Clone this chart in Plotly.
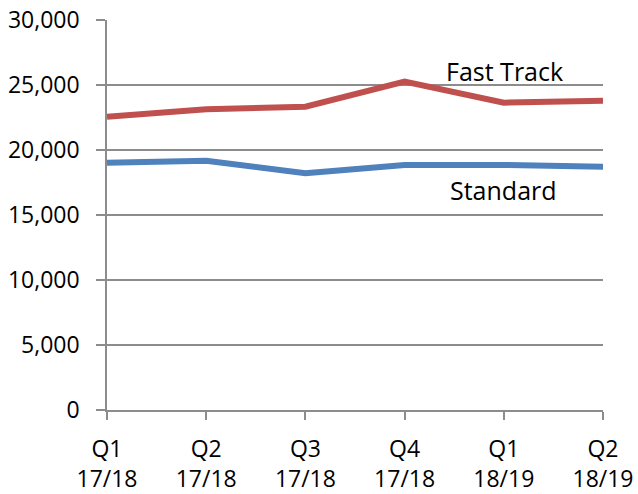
import plotly.graph_objects as go

quarters = ["Q1<br>17/18", "Q2<br>17/18", "Q3<br>17/18", "Q4<br>17/18", "Q1<br>18/19", "Q2<br>18/19"]
fast_track = [22560, 23130, 23330, 25260, 23640, 23790]
standard = [19020, 19180, 18210, 18850, 18850, 18720]
y_ticks = [0, 5000, 10000, 15000, 20000, 25000, 30000]
y_tick_labels = ["0", "5,000", "10,000", "15,000", "20,000", "25,000", "30,000"]

x_idx = list(range(len(quarters)))
FONT = "Open Sans, Liberation Sans, sans-serif"

fig = go.Figure()
fig.add_trace(go.Scatter(x=x_idx, y=fast_track, mode="lines", name="Fast Track",
                         line=dict(color="#C0504D", width=6), cliponaxis=False))
fig.add_trace(go.Scatter(x=x_idx, y=standard, mode="lines", name="Standard",
                         line=dict(color="#4F81BD", width=6), cliponaxis=False))

fig.add_annotation(x=4.01, y=26100, text="Fast Track", showarrow=False,
                   font=dict(size=25, color="#000000", family=FONT))
fig.add_annotation(x=4.0, y=16900, text="Standard", showarrow=False,
                   font=dict(size=25, color="#000000", family=FONT))

fig.update_layout(
    width=638, height=494,
    margin=dict(l=107, r=35, t=20, b=84),
    paper_bgcolor="white", plot_bgcolor="white",
    showlegend=False,
    font=dict(family=FONT, size=23, color="#000000"),
)
fig.update_xaxes(
    range=[0, 5], tickmode="array", tickvals=x_idx, ticktext=quarters,
    showgrid=False, showline=True, linecolor="#8C8C8C", linewidth=1.5,
    ticks="outside", ticklen=8, tickcolor="#8C8C8C", tickwidth=1.5,
    zeroline=False, tickfont=dict(size=23, family=FONT), automargin=False,
    ticklabelstandoff=10,
)
fig.update_yaxes(
    range=[0, 30000], tickmode="array", tickvals=y_ticks, ticktext=y_tick_labels,
    showgrid=True, gridcolor="#8C8C8C", gridwidth=1.5,
    showline=True, linecolor="#8C8C8C", linewidth=1.5,
    ticks="outside", ticklen=9, tickcolor="#8C8C8C", tickwidth=1.5,
    zeroline=False, tickfont=dict(size=23, family=FONT), automargin=False,
    ticklabelstandoff=12,
)

fig.write_html("out.html", config={"displayModeBar": False},
               post_script="document.body.style.margin='0';document.body.style.overflow='hidden';")
